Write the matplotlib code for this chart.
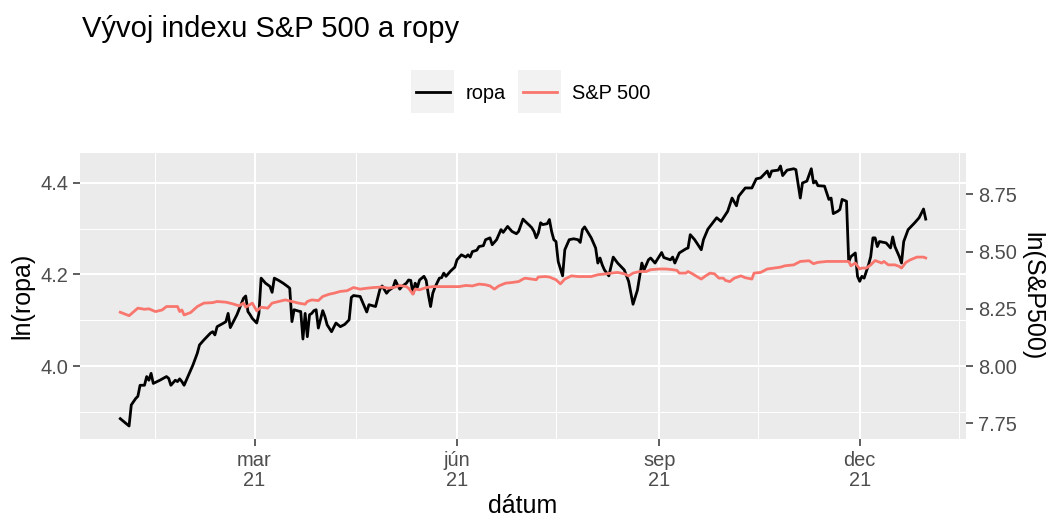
import numpy as np
import pandas as pd
import matplotlib
matplotlib.use('Agg')
import matplotlib.pyplot as plt
import matplotlib.dates as mdates
from matplotlib.patches import Rectangle
from matplotlib.lines import Line2D

plt.rcParams['font.family'] = ['Liberation Sans', 'DejaVu Sans']

# dni od 1.1.2021, ln(ropa)
ropa_den = [-2, 2, 3, 5, 6, 7, 9, 10, 11, 12, 13, 16, 19, 20, 21, 23, 24, 25, 26, 27,
            29, 31, 33, 34, 36, 39, 40, 41, 42, 45, 46, 47, 48, 51, 52, 54, 55, 56, 57, 58,
            60, 61, 62, 64, 66, 67, 68, 70, 72, 74, 75, 76, 77, 79, 80, 81, 82, 83, 84, 85,
            86, 87, 88, 90, 91, 92, 94, 96, 98, 100, 102, 103, 104, 107, 110, 111, 114, 116, 117, 119,
            120, 122, 123, 124, 125, 126, 128, 129, 130, 131, 132, 133, 134, 136, 137, 138, 139, 140, 141, 143,
            144, 145, 146, 148, 150, 151, 153, 155, 156, 157, 158, 160, 161, 163, 164, 166, 167, 169, 171, 172,
            174, 176, 178, 179, 181, 182, 184, 185, 186, 187, 188, 189, 190, 192, 193, 194, 195, 196, 197, 199,
            200, 202, 204, 206, 207, 208, 209, 212, 214, 215, 216, 217, 218, 220, 222, 224, 227, 229, 231, 233,
            234, 235, 236, 238, 239, 241, 244, 245, 248, 249, 250, 252, 255, 256, 257, 259, 262, 263, 265, 269,
            271, 274, 276, 278, 279, 282, 285, 287, 289, 292, 293, 294, 297, 298, 299, 301, 304, 305, 307, 308,
            310, 312, 313, 314, 315, 318, 320, 321, 322, 324, 325, 326, 328, 329, 330, 332, 333, 334, 335, 336,
            338, 339, 340, 341, 342, 343, 346, 348, 349, 350, 352, 353, 354, 356, 359, 361, 363, 364]
ropa_ln = [3.885, 3.869, 3.915, 3.929, 3.934, 3.958, 3.958, 3.977, 3.969, 3.984, 3.962, 3.969, 3.977, 3.973, 3.958, 3.969, 3.966, 3.972, 3.966, 3.958,
           3.980, 4.002, 4.028, 4.046, 4.057, 4.072, 4.075, 4.068, 4.086, 4.094, 4.097, 4.115, 4.084, 4.112, 4.124, 4.148, 4.153, 4.119, 4.112, 4.104,
           4.094, 4.115, 4.192, 4.181, 4.174, 4.161, 4.192, 4.187, 4.181, 4.174, 4.170, 4.097, 4.123, 4.120, 4.119, 4.059, 4.115, 4.064, 4.112, 4.115,
           4.121, 4.123, 4.083, 4.121, 4.108, 4.090, 4.075, 4.094, 4.086, 4.091, 4.101, 4.150, 4.154, 4.152, 4.118, 4.134, 4.130, 4.168, 4.175, 4.159,
           4.165, 4.172, 4.187, 4.177, 4.168, 4.174, 4.181, 4.188, 4.187, 4.158, 4.181, 4.172, 4.188, 4.196, 4.187, 4.156, 4.130, 4.159, 4.172, 4.192,
           4.193, 4.203, 4.196, 4.207, 4.216, 4.232, 4.243, 4.238, 4.243, 4.238, 4.250, 4.253, 4.261, 4.263, 4.276, 4.280, 4.265, 4.276, 4.298, 4.292,
           4.305, 4.294, 4.289, 4.294, 4.321, 4.316, 4.307, 4.302, 4.294, 4.280, 4.291, 4.313, 4.309, 4.311, 4.320, 4.294, 4.276, 4.272, 4.228, 4.197,
           4.254, 4.276, 4.278, 4.276, 4.270, 4.298, 4.304, 4.280, 4.258, 4.225, 4.236, 4.221, 4.210, 4.197, 4.238, 4.225, 4.210, 4.185, 4.135, 4.166,
           4.196, 4.225, 4.210, 4.232, 4.236, 4.225, 4.248, 4.237, 4.232, 4.238, 4.225, 4.247, 4.256, 4.258, 4.287, 4.276, 4.254, 4.276, 4.299, 4.324,
           4.316, 4.338, 4.367, 4.350, 4.371, 4.389, 4.389, 4.409, 4.411, 4.426, 4.413, 4.426, 4.428, 4.437, 4.416, 4.428, 4.431, 4.429, 4.367, 4.400,
           4.404, 4.431, 4.400, 4.404, 4.394, 4.393, 4.364, 4.367, 4.333, 4.338, 4.342, 4.364, 4.360, 4.228, 4.239, 4.247, 4.196, 4.185, 4.196, 4.192,
           4.221, 4.239, 4.280, 4.280, 4.261, 4.272, 4.269, 4.258, 4.282, 4.261, 4.239, 4.225, 4.272, 4.298, 4.313, 4.324, 4.343, 4.321]

# dni od 1.1.2021, ln(S&P 500)
sp_den = [-2, 2, 6, 9, 11, 14, 17, 19, 24, 25, 26, 27, 30, 33, 36, 40, 42, 46, 49, 52,
          54, 55, 58, 60, 62, 65, 67, 70, 73, 76, 79, 82, 83, 85, 88, 90, 93, 95, 98, 101,
          104, 107, 110, 113, 117, 120, 123, 125, 128, 129, 131, 132, 134, 137, 140, 143, 147, 152, 155, 158,
          161, 164, 166, 168, 170, 173, 176, 179, 181, 182, 185, 187, 188, 191, 193, 196, 198, 200, 203, 206,
          209, 212, 215, 218, 221, 224, 227, 229, 231, 234, 237, 239, 243, 246, 249, 251, 252, 255, 256, 258,
          260, 262, 264, 266, 268, 270, 272, 273, 275, 277, 280, 282, 285, 286, 289, 292, 295, 298, 300, 304,
          307, 311, 313, 315, 319, 324, 329, 330, 332, 334, 335, 337, 339, 341, 344, 345, 347, 350, 352, 353,
          355, 357, 360, 363, 364]
sp_ln = [8.235, 8.220, 8.253, 8.248, 8.250, 8.238, 8.245, 8.260, 8.260, 8.238, 8.245, 8.223, 8.234, 8.260, 8.275, 8.277, 8.282, 8.279, 8.272, 8.263,
         8.275, 8.257, 8.275, 8.241, 8.257, 8.253, 8.275, 8.282, 8.289, 8.282, 8.275, 8.270, 8.282, 8.289, 8.286, 8.304, 8.314, 8.318, 8.326, 8.329,
         8.343, 8.336, 8.340, 8.343, 8.345, 8.340, 8.345, 8.352, 8.347, 8.340, 8.314, 8.336, 8.333, 8.343, 8.347, 8.347, 8.347, 8.347, 8.352, 8.350,
         8.358, 8.355, 8.350, 8.336, 8.350, 8.362, 8.365, 8.369, 8.380, 8.384, 8.380, 8.377, 8.389, 8.391, 8.389, 8.377, 8.359, 8.380, 8.394, 8.391,
         8.391, 8.391, 8.399, 8.402, 8.406, 8.409, 8.403, 8.394, 8.406, 8.413, 8.413, 8.421, 8.424, 8.424, 8.421, 8.418, 8.406, 8.406, 8.413, 8.403,
         8.391, 8.380, 8.394, 8.406, 8.403, 8.384, 8.384, 8.374, 8.369, 8.384, 8.394, 8.386, 8.380, 8.406, 8.409, 8.424, 8.428, 8.432, 8.438, 8.442,
         8.457, 8.460, 8.447, 8.453, 8.457, 8.457, 8.457, 8.438, 8.450, 8.424, 8.428, 8.428, 8.442, 8.461, 8.450, 8.457, 8.442, 8.442, 8.435, 8.428,
         8.453, 8.464, 8.476, 8.476, 8.472]

x_ticks = ['2021-03-01', '2021-06-01', '2021-09-01', '2021-12-01']
x_labels = ['mar\n21', 'jún\n21', 'sep\n21', 'dec\n21']
x_minor = ['2021-01-15', '2021-04-16', '2021-07-16', '2021-10-16', '2022-01-15']
y_ticks = [4.0, 4.2, 4.4]
y_minor = [3.9, 4.1, 4.3]
y2_ticks = [7.75, 8.00, 8.25, 8.50, 8.75]

start = pd.Timestamp('2021-01-01')
ropa_dat = start + pd.to_timedelta(ropa_den, unit='D')
sp_dat = start + pd.to_timedelta(sp_den, unit='D')
sp_scaled = np.array(sp_ln) / 2  # sek. os: ln(S&P500) = 2 * ln(ropa)

W, H = 1046, 517
fig = plt.figure(figsize=(W / 100, H / 100), dpi=100)
ax = fig.add_axes([80 / W, 1 - 439 / H, 886 / W, 286 / H])
ax.set_facecolor('#EBEBEB')
for s in ax.spines.values():
    s.set_visible(False)

ax.plot(ropa_dat, ropa_ln, color='black', lw=2.0, zorder=3, solid_joinstyle='round')
ax.plot(sp_dat, sp_scaled, color='#F8766D', lw=2.0, zorder=3, solid_joinstyle='round')

# limity ako ggplot (5 % rozsah)
lo = min(min(ropa_ln), sp_scaled.min())
hi = max(max(ropa_ln), sp_scaled.max())
pad = 0.05 * (hi - lo)
ax.set_ylim(lo - pad, hi + pad)
x0 = mdates.date2num(min(ropa_dat.min(), sp_dat.min()))
x1 = mdates.date2num(max(ropa_dat.max(), sp_dat.max()))
xp = 0.05 * (x1 - x0)
ax.set_xlim(x0 - xp, x1 + xp)

ax.set_xticks(mdates.date2num(pd.to_datetime(x_ticks)))
ax.set_xticklabels(x_labels, linespacing=1.05)
ax.set_xticks(mdates.date2num(pd.to_datetime(x_minor)), minor=True)
ax.set_yticks(y_ticks)
ax.set_yticklabels(['%.1f' % v for v in y_ticks])
ax.set_yticks(y_minor, minor=True)

ax.grid(which='major', color='white', lw=1.45, zorder=0)
ax.grid(which='minor', color='white', lw=0.75, zorder=0)
ax.set_axisbelow(True)
ax.tick_params(which='major', length=5, width=1.1, color='#333333',
               labelsize=14.4, labelcolor='#4D4D4D', pad=3.5)
ax.tick_params(which='minor', length=0)

sec = ax.secondary_yaxis('right', functions=(lambda v: 2 * v, lambda r: r / 2))
sec.set_yticks(y2_ticks)
sec.set_yticklabels(['%.2f' % v for v in y2_ticks])
sec.tick_params(length=5, width=1.1, color='#333333', labelsize=14.4,
                labelcolor='#4D4D4D', pad=3.5)
for s in sec.spines.values():
    s.set_visible(False)

ax.set_xlabel('dátum', fontsize=18)
ax.xaxis.set_label_coords(0.5, -0.234)
ax.xaxis.label.set_va('center')
ax.set_ylabel('ln(ropa)', fontsize=18)
ax.yaxis.set_label_coords(-0.0655, 0.5)
ax.yaxis.label.set_va('center')
fig.text(1032 / W, 1 - 296 / H, 'ln(S&P500)', fontsize=18, rotation=270,
         ha='center', va='center')

fig.text(82 / W, 1 - 37 / H, 'Vývoj indexu S&P 500 a ropy', fontsize=21,
         va='baseline', ha='left')

# legenda hore
leg = [('ropa', 'black', 411, 466), ('S&P 500', '#F8766D', 518, 572)]
for name, col, kx, tx in leg:
    fig.add_artist(Rectangle((kx / W, 1 - 113 / H), 43 / W, 43 / H,
                             transform=fig.transFigure, facecolor='#F2F2F2',
                             edgecolor='none'))
    fig.add_artist(Line2D([(kx + 5) / W, (kx + 39) / W], [1 - 92 / H, 1 - 92 / H],
                          transform=fig.transFigure, color=col, lw=2.0))
    fig.text(tx / W, 1 - 99 / H, name, fontsize=14.4, va='baseline', ha='left')

fig.savefig('out.png', dpi=100)
